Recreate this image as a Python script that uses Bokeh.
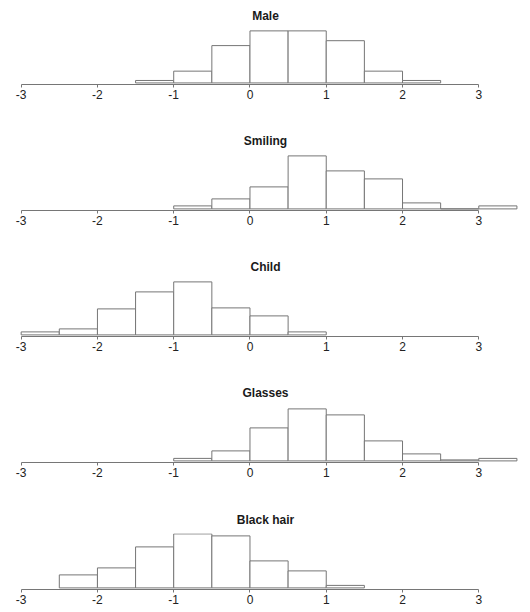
from bokeh.plotting import figure
from bokeh.layouts import column
from bokeh.models import Range1d, FixedTicker
from bokeh.embed import file_html
from bokeh.resources import INLINE

# ---- data ----
titles = ["Male", "Smiling", "Child", "Glasses", "Black hair"]
bin_width = 0.5
# left edge of the first bin of each histogram
bin_starts = [-1.5, -1.0, -3.0, -1.0, -2.5]
male_freq = [2.5, 12, 38, 53, 53, 43, 12, 2.5]
smiling_freq = [3, 10, 22, 53, 38, 30, 6, 0, 3]
child_freq = [3, 6, 26, 43, 53, 27, 19, 3]
glasses_freq = [2.5, 10, 33, 52, 46, 20, 7, 1, 2.5]
black_hair_freq = [13, 20, 41, 54, 52, 27, 17, 2.5]
all_freq = [male_freq, smiling_freq, child_freq, glasses_freq, black_hair_freq]
tick_values = [-3, -2, -1, 0, 1, 2, 3]
tick_labels = ["-3", "-2", "-1", "0", "1", "2", "3"]

# ---- layout ----
W = 530
heights = [115, 126, 127, 126, 118]
borders_top = [28, 39, 39, 38, 39]
borders_bottom = [31, 31, 32, 32, 23]
LINE = "#767676"
FONT = "Liberation Sans"

figs = []
for i, (t, freq) in enumerate(zip(titles, all_freq)):
    lefts = [bin_starts[i] + k * bin_width for k in range(len(freq))]
    rights = [l + bin_width for l in lefts]
    p = figure(width=W, height=heights[i], output_backend="svg", toolbar_location=None,
               x_range=Range1d(-3.271, 3.678), y_range=Range1d(-1.6, 54.4),
               y_axis_location=None, min_border_left=0, min_border_right=0,
               min_border_top=borders_top[i], min_border_bottom=borders_bottom[i],
               title=t)
    p.quad(left=lefts, right=rights, bottom=0, top=freq,
           fill_color="white", line_color=LINE, line_width=1)
    p.title.align = "center"
    p.title.text_font = FONT
    p.title.text_font_size = "12px"
    p.title.text_font_style = "bold"
    p.title.text_color = "#1a1a1a"
    p.title.standoff = 13
    p.title.offset = 0
    ax = p.xaxis[0]
    ax.ticker = FixedTicker(ticks=tick_values)
    ax.major_label_overrides = {v: s for v, s in zip(tick_values, tick_labels)}
    ax.bounds = (-3, 3)
    ax.axis_line_color = LINE
    ax.major_tick_line_color = LINE
    ax.major_tick_out = 3
    ax.major_tick_in = 0
    ax.minor_tick_line_color = None
    ax.major_label_text_font = FONT
    ax.major_label_text_font_size = "12px"
    ax.major_label_text_color = "#222222"
    ax.major_label_standoff = 2
    p.xgrid.visible = False
    p.ygrid.visible = False
    p.outline_line_color = None
    p.background_fill_color = "white"
    p.border_fill_color = "white"
    figs.append(p)

layout = column(*figs, spacing=0)
open("out.html", "w").write(file_html(layout, INLINE))
